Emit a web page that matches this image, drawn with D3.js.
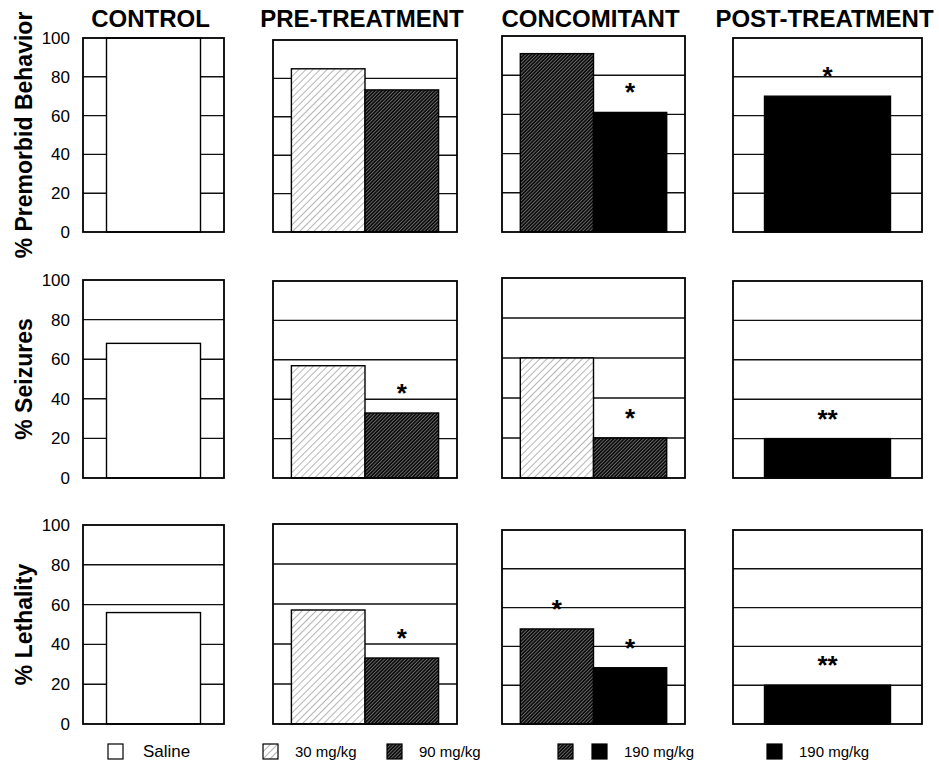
<!DOCTYPE html>
<html>
<head>
<meta charset="utf-8">
<script src="https://cdn.jsdelivr.net/npm/d3@7"></script>
<style>
  body { margin: 0; background: #fff; }
  text { font-family: "Liberation Sans", Arial, sans-serif; fill: #000; }
  .title { font-size: 24px; font-weight: bold; }
  .ylabel { font-size: 23px; font-weight: bold; }
  .tick { font-size: 17px; }
  .star { font-size: 26px; font-weight: bold; }
</style>
</head>
<body>
<div id="chart"></div>
<script>
// data
var groups = ["CONTROL", "PRE-TREATMENT", "CONCOMITANT", "POST-TREATMENT"];
var measures = ["% Premorbid Behavior", "% Seizures", "% Lethality"];
// dose shown by each bar, per measure and group
var behaviorDoses = [["Saline"], ["30 mg/kg", "90 mg/kg"], ["90 mg/kg", "190 mg/kg"], ["190 mg/kg"]];
var seizureDoses = [["Saline"], ["30 mg/kg", "90 mg/kg"], ["30 mg/kg", "90 mg/kg"], ["190 mg/kg"]];
var lethalityDoses = [["Saline"], ["30 mg/kg", "90 mg/kg"], ["90 mg/kg", "190 mg/kg"], ["190 mg/kg"]];
var behaviorValues = [[100], [85, 74], [91, 61], [70]];
var seizureValues = [[68], [57, 33], [60, 20], [20]];
var lethalityValues = [[56], [57, 33], [49, 29], [20]];
var behaviorStars = [[""], ["", ""], ["", "*"], ["*"]];
var seizureStars = [[""], ["", "*"], ["", "*"], ["**"]];
var lethalityStars = [[""], ["", "*"], ["*", "*"], ["**"]];
var yTicks = [0, 20, 40, 60, 80, 100];
var legendItems = [
  {doses: ["Saline"], label: "Saline"},
  {doses: ["30 mg/kg"], label: "30 mg/kg"},
  {doses: ["90 mg/kg"], label: "90 mg/kg"},
  {doses: ["90 mg/kg", "190 mg/kg"], label: "190 mg/kg"},
  {doses: ["190 mg/kg"], label: "190 mg/kg"}
];

var allDoses = [behaviorDoses, seizureDoses, lethalityDoses];
var allValues = [behaviorValues, seizureValues, lethalityValues];
var allStars = [behaviorStars, seizureStars, lethalityStars];

// layout
var width = 939, height = 761;
var colX = [[83, 224], [273, 457], [502, 685], [733, 922]];
var panelTop = [[38, 40, 36, 38], [280, 281, 278, 281], [525, 524, 530, 530]];
var panelBottom = [232, 478, 724];
var legendX = [108, 263, 387, 558, 767];
var legendY = 744;

var svg = d3.select("#chart")
  .append("svg")
    .attr("width", width)
    .attr("height", height);

var defs = svg.append("defs");

// light hatch (30 mg/kg)
var p1 = defs.append("pattern")
    .attr("id", "hatchLight")
    .attr("patternUnits", "userSpaceOnUse")
    .attr("width", 5).attr("height", 5)
    .attr("patternTransform", "rotate(45)");
p1.append("rect").attr("width", 5).attr("height", 5).attr("fill", "#fff");
p1.append("line").attr("x1", 0).attr("y1", 0).attr("x2", 0).attr("y2", 5)
    .attr("stroke", "#777").attr("stroke-width", 1.1);

// dark hatch (90 mg/kg)
var p2 = defs.append("pattern")
    .attr("id", "hatchDark")
    .attr("patternUnits", "userSpaceOnUse")
    .attr("width", 2.5).attr("height", 2.5)
    .attr("patternTransform", "rotate(45)");
p2.append("rect").attr("width", 2.5).attr("height", 2.5).attr("fill", "#0a0a0a");
p2.append("line").attr("x1", 0.5).attr("y1", 0).attr("x2", 0.5).attr("y2", 2.5)
    .attr("stroke", "#8a8a8a").attr("stroke-width", 0.7);

var doseFill = d3.scaleOrdinal()
  .domain(["Saline", "30 mg/kg", "90 mg/kg", "190 mg/kg"])
  .range(["#fff", "url(#hatchLight)", "url(#hatchDark)", "#000"]);

measures.forEach(function(measure, r) {
  groups.forEach(function(group, c) {
    var top = panelTop[r][c], bottom = panelBottom[r];
    var x0 = colX[c][0], x1 = colX[c][1];

    var y = d3.scaleLinear().domain([0, 100]).range([bottom, top]);
    var x = d3.scaleBand()
      .domain(d3.range(allDoses[r][c].length))
      .range([x0, x1])
      .paddingInner(0)
      .paddingOuter(0.25);

    var g = svg.append("g");

    // gridlines
    g.selectAll("line.grid")
      .data(yTicks.filter(function(t) { return t > 0 && t < 100; }))
      .enter()
      .append("line")
        .attr("x1", x0).attr("x2", x1)
        .attr("y1", function(d) { return y(d); })
        .attr("y2", function(d) { return y(d); })
        .attr("stroke", "#111")
        .attr("stroke-width", 1.4);

    var rows = allDoses[r][c].map(function(dose, i) {
      return {i: i, dose: dose, value: allValues[r][c][i], star: allStars[r][c][i]};
    });

    // bars
    g.selectAll("rect.bar")
      .data(rows)
      .enter()
      .append("rect")
        .attr("x", function(d) { return x(d.i); })
        .attr("y", function(d) { return y(d.value); })
        .attr("width", x.bandwidth())
        .attr("height", function(d) { return bottom - y(d.value); })
        .attr("fill", function(d) { return doseFill(d.dose); })
        .attr("stroke", "#000")
        .attr("stroke-width", 1.4);

    // frame
    g.append("rect")
      .attr("x", x0).attr("y", top)
      .attr("width", x1 - x0).attr("height", bottom - top)
      .attr("fill", "none")
      .attr("stroke", "#000")
      .attr("stroke-width", 1.8);

    // significance marks
    g.selectAll("text.star")
      .data(rows.filter(function(d) { return d.star; }))
      .enter()
      .append("text")
        .attr("class", "star")
        .attr("text-anchor", "middle")
        .attr("x", function(d) { return x(d.i) + x.bandwidth() / 2; })
        .attr("y", function(d) { return y(d.value) - 11; })
        .text(function(d) { return d.star; });

    if (c == 0) {
      g.selectAll("text.tick")
        .data(yTicks)
        .enter()
        .append("text")
          .attr("class", "tick")
          .attr("text-anchor", "end")
          .attr("x", 70)
          .attr("y", function(d) { return y(d) + 6; })
          .text(function(d) { return d; });

      g.append("text")
        .attr("class", "ylabel")
        .attr("text-anchor", "middle")
        .attr("transform", "translate(32," + ((top + bottom) / 2) + ")rotate(-90)")
        .text(measure);
    }

    if (r == 0) {
      g.append("text")
        .attr("class", "title")
        .attr("text-anchor", "middle")
        .attr("x", (x0 + x1) / 2 - 3)
        .attr("y", 27)
        .text(group);
    }
  });
});

// legend
legendItems.forEach(function(item, i) {
  var lg = svg.append("g").attr("transform", "translate(" + legendX[i] + "," + legendY + ")");
  lg.selectAll("rect")
    .data(item.doses)
    .enter()
    .append("rect")
      .attr("x", function(d, j) { return j * 34; })
      .attr("y", 0)
      .attr("width", 15)
      .attr("height", 15)
      .attr("fill", function(d) { return doseFill(d); })
      .attr("stroke", "#000")
      .attr("stroke-width", 1.2);
  var tx = item.doses.length * 34 - 34 + 15 + (item.label == "Saline" ? 20 : 17);
  lg.append("text")
    .attr("x", tx)
    .attr("y", 13)
    .style("font-size", item.label == "Saline" ? "17px" : "15px")
    .text(item.label);
});
</script>
</body>
</html>
